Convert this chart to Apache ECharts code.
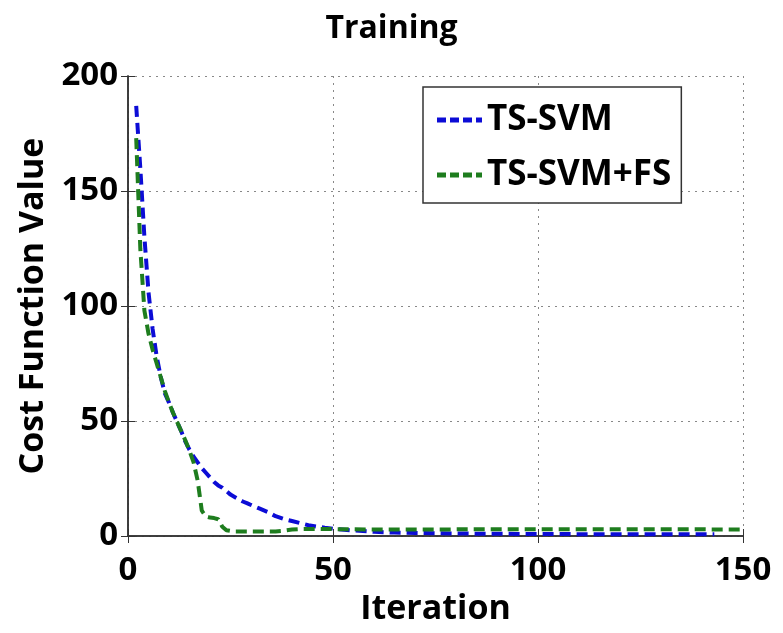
<!DOCTYPE html>
<html>
<head>
<meta charset="utf-8">
<script src="https://cdn.jsdelivr.net/npm/echarts@6/dist/echarts.min.js"></script>
<style>html,body{margin:0;padding:0;background:#fff;}#c{width:783px;height:633px;}</style>
</head>
<body>
<div id="c"></div>
<script>
var titleText = "Training";
var xName = "Iteration";
var yName = "Cost Function Value";
var xTicks = [0, 50, 100, 150];
var yTicks = [0, 50, 100, 150, 200];
var seriesNames = ["TS-SVM", "TS-SVM+FS"];

var blueIter = [2,3,4,5,6,7,8,9,10,11,12,13,14,15,16,17,18,19,20,21,22,23,24,25,26,27,28,29,30,
  32,34,36,38,40,42,44,46,48,50,55,60,65,70,75,80,85,90,95,100,105,110,115,120,125,130,135,140,143];
var blueVal = [187,160,130,106,90,78,69,62,58,53.5,49.5,45.5,41,37.5,34.5,32,29.5,27.5,25.5,23.5,22,21,19.5,18,17,16,15,14.3,13.5,
  12,10.5,8.6,7.4,6.5,5.6,4.7,4.1,3.6,3.2,2.4,1.8,1.5,1.3,1.2,1.1,1.0,1.0,0.9,0.9,0.9,0.8,0.8,0.8,0.8,0.8,0.8,0.8,0.8];

var greenIter = [2,3,4,5,6,7,8,9,10,11,12,13,14,15,16,17,18,19,20,21,22,23,24,25,26,28,30,32,34,36,38,40,42,44,46,48,50,
  55,60,65,70,75,80,85,90,95,100,105,110,115,120,125,130,135,140,145,150];
var greenVal = [173,125,98,88,81,75,69,63,58,53.5,49.5,45.5,41.5,37,32,24,11,8.5,8,7.8,7.3,4,2.5,2.2,2.0,2.0,2.0,2.0,2.0,2.0,2.3,2.8,3.0,3.0,3.0,3.0,3.0,
  2.9,2.8,2.8,2.8,2.8,2.9,2.9,2.9,2.9,2.9,2.9,2.9,2.9,2.9,2.9,2.9,2.9,2.9,2.8,2.8];

function pairs(xs, ys){ return xs.map(function(x,i){ return [x, ys[i]]; }); }

var FONT = "Open Sans";
var dashIcon = 'path://M0,0h9v5h-9z M13,0h9v5h-9z M26,0h9v5h-9z M39,0h6v5h-6z';
var chart = echarts.init(document.getElementById('c'), null, {renderer:'canvas'});
var lbl = {fontFamily: FONT, fontWeight: 'bold', fontSize: 33, color: '#000'};
chart.setOption({
  animation: false,
  backgroundColor: '#fff',
  title: {
    text: titleText, left: 'center', top: 8,
    textStyle: {fontFamily: FONT, fontWeight: 'bold', fontSize: 32, color: '#000'}
  },
  grid: {left: 128, right: 40, top: 76, bottom: 97, containLabel: false},
  legend: {
    orient: 'vertical', left: 423, top: 87,
    data: seriesNames.map(function(n){ return {name: n, icon: dashIcon}; }),
    itemWidth: 45, itemHeight: 5, itemGap: 15,
    padding: [13, 10, 8, 14],
    borderColor: '#333', borderWidth: 1.5, backgroundColor: '#fff',
    textStyle: {fontFamily: FONT, fontWeight: 'bold', fontSize: 35, color: '#000', lineHeight: 40}
  },
  xAxis: [{
    type: 'value', min: 0, max: 150, interval: 50, position: 'bottom',
    name: xName, nameLocation: 'middle', nameGap: 55,
    nameTextStyle: {fontFamily: FONT, fontWeight: 'bold', fontSize: 34, color: '#000'},
    axisLine: {show: true, lineStyle: {color: '#333', width: 1.5}},
    axisTick: {show: true, inside: true, length: 7, lineStyle: {color: '#333'}},
    axisLabel: Object.assign({margin: 18, formatter: function(v){ return xTicks.indexOf(v) >= 0 ? String(v) : ''; }}, lbl),
    splitLine: {show: true, lineStyle: {type: [2, 5], color: '#888', width: 1}}
  }, {
    type: 'value', min: 0, max: 150, interval: 50, position: 'top',
    axisLine: {show: true, lineStyle: {color: '#333', width: 1.5}},
    axisTick: {show: true, inside: true, length: 7, lineStyle: {color: '#333'}},
    axisLabel: {show: false}, splitLine: {show: false}
  }],
  yAxis: [{
    type: 'value', min: 0, max: 200, interval: 50, position: 'left',
    name: yName, nameLocation: 'middle', nameGap: 78,
    nameTextStyle: {fontFamily: FONT, fontWeight: 'bold', fontSize: 34, color: '#000'},
    axisLine: {show: true, lineStyle: {color: '#333', width: 1.5}},
    axisTick: {show: true, inside: true, length: 7, lineStyle: {color: '#333'}},
    axisLabel: Object.assign({margin: 10, formatter: function(v){ return yTicks.indexOf(v) >= 0 ? String(v) : ''; }}, lbl),
    splitLine: {show: true, lineStyle: {type: [2, 5], color: '#888', width: 1}}
  }, {
    type: 'value', min: 0, max: 200, interval: 50, position: 'right',
    axisLine: {show: true, lineStyle: {color: '#333', width: 1.5}},
    axisTick: {show: true, inside: true, length: 7, lineStyle: {color: '#333'}},
    axisLabel: {show: false}, splitLine: {show: false}
  }],
  series: [{
    name: seriesNames[0], type: 'line', xAxisIndex: 0, yAxisIndex: 0,
    data: pairs(blueIter, blueVal), showSymbol: false, symbol: 'none', smooth: false,
    lineStyle: {color: '#0c0cd6', width: 4, type: [11, 6]},
    itemStyle: {color: '#0c0cd6'}, z: 3
  }, {
    name: seriesNames[1], type: 'line', xAxisIndex: 0, yAxisIndex: 0,
    data: pairs(greenIter, greenVal), showSymbol: false, symbol: 'none', smooth: false,
    lineStyle: {color: '#1e7d1e', width: 4, type: [11, 6]},
    itemStyle: {color: '#1e7d1e'}, z: 4
  }]
});
</script>
</body>
</html>
